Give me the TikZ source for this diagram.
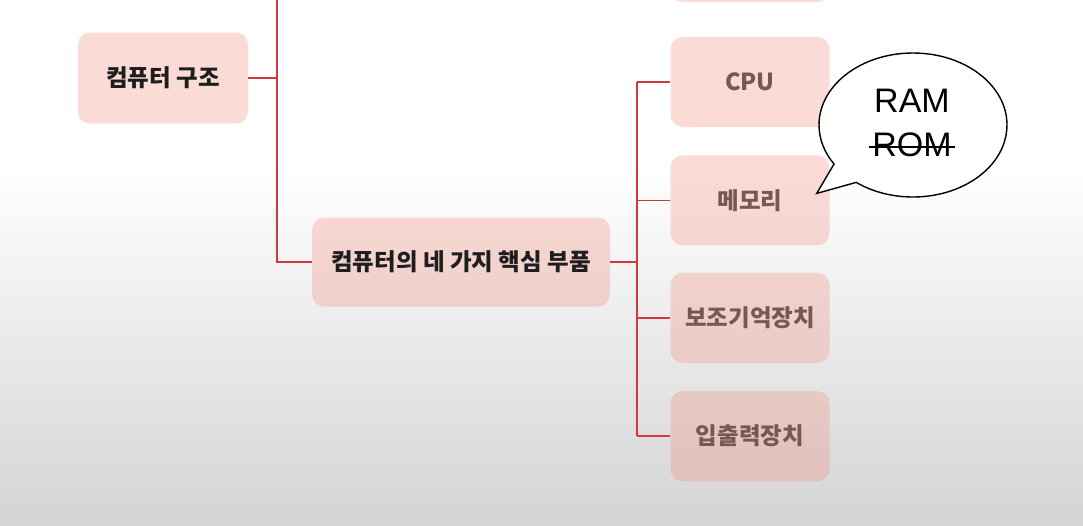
\documentclass[tikz,border=0pt]{standalone}
\usepackage{fontspec}
\setmainfont{Noto Sans CJK KR}
\newfontfamily\ramfont{Liberation Sans}
\usepackage{tikz}
\usetikzlibrary{positioning, shapes.callouts}
\definecolor{boxpink}{RGB}{245,138,122}
\definecolor{linered}{RGB}{208,58,58}
\definecolor{textbrown}{RGB}{120,88,82}
\definecolor{textdark}{RGB}{30,30,30}
\definecolor{bggray}{RGB}{212,212,212}

\tikzset{
  topic/.style={rounded corners=12pt, fill=boxpink, fill opacity=0.3, text opacity=1,
    text=textdark, font=\fontsize{23.5}{28}\selectfont\bfseries, minimum height=91pt, inner sep=0pt},
  part/.style={topic, text=textbrown, font=\fontsize{23.5}{28}\selectfont\bfseries,
    minimum width=159pt, minimum height=90pt},
  branch/.style={linered, line width=1.6pt},
  bigword/.style={font=\ramfont\fontsize{34}{40}\selectfont, inner sep=0pt},
}

\begin{document}
\begin{tikzpicture}[x=1pt, y=-1pt]
\useasboundingbox (0,0) rectangle (1083,525);
\fill[white] (0,0) rectangle (1083,165);
\shade[top color=white, bottom color=bggray] (0,165) rectangle (1083,525);

% left column
\node[topic, minimum width=170pt] (arch) at (163,78) {컴퓨터 구조};
\node[topic, minimum width=298pt, minimum height=89pt] (core) at (461,262) {컴퓨터의 네 가지 핵심 부품};

% right column
\node[part] (prev) at (750,-43) {};
\node[part] (cpu) at (750,82) {CPU};
\node[part, below=28pt of cpu] (mem) {메모리};
\node[part, below=27pt of mem] (sto) {보조기억장치};
\node[part, below=28pt of sto] (io) {입출력장치};

% branches
\coordinate (archfork) at ([xshift=29pt]arch.east);
\coordinate (archtop) at (archfork |- 0,-10);
\draw[branch] (arch.east) -- (archfork);
\draw[branch] (archtop) -- (archfork) |- (core.west);
\coordinate (corefork) at ([xshift=27pt]core.east);
\draw[branch] (core.east) -- (corefork);
\draw[branch] (corefork |- cpu.west) -- (corefork |- io.west);
\foreach \p in {cpu,mem,sto,io}
  \draw[branch] (corefork |- \p.west) -- (\p.west);

% speech bubble
\node[ellipse callout, draw=black, line width=1.4pt, fill=white,
  minimum width=188pt, minimum height=144pt, callout pointer arc=20,
  callout absolute pointer={([xshift=-13pt, yshift=7pt]mem.east)}] (bubble) at (913,125) {};
\node[bigword] (ram) at (912,101) {RAM};
\node[bigword] (rom) at (912,145) {ROM};
\draw[line width=1.4pt] ([xshift=-3pt, yshift=-2pt]rom.west) -- ([xshift=3pt, yshift=-2pt]rom.east);

\end{tikzpicture}
\end{document}
